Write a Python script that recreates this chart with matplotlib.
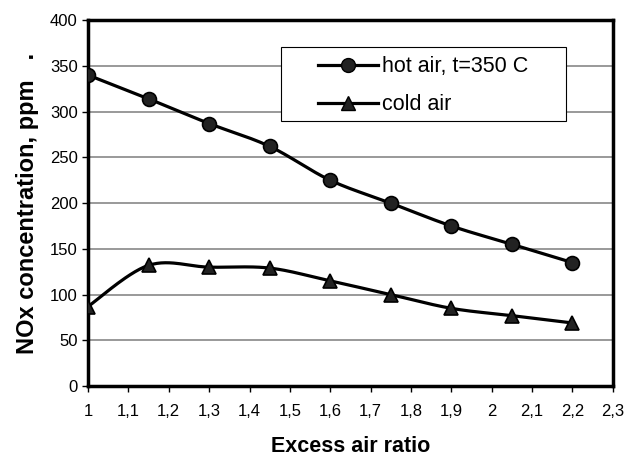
import numpy as np
import matplotlib
matplotlib.use('Agg')
from matplotlib import pyplot as plt
from matplotlib.ticker import FuncFormatter
from matplotlib.patches import Rectangle

# data
excess_air = [1.0, 1.15, 1.3, 1.45, 1.6, 1.75, 1.9, 2.05, 2.2]
hot_air = [340, 314, 287, 262, 225, 200, 175, 155, 135]
cold_air = [87, 132, 130, 129, 115, 100, 85, 77, 69]


def smooth(xs, ys, n=30):
    # Catmull-Rom style smoothing like spreadsheet "smoothed line"
    xs = np.asarray(xs, float)
    ys = np.asarray(ys, float)
    px = np.concatenate([[xs[0]], xs, [xs[-1]]])
    py = np.concatenate([[ys[0]], ys, [ys[-1]]])
    outx, outy = [], []
    t = np.linspace(0, 1, n)
    for i in range(1, len(px) - 2):
        p0 = np.array([px[i], py[i]])
        p3 = np.array([px[i + 1], py[i + 1]])
        c1 = p0 + (np.array([px[i + 1], py[i + 1]]) - np.array([px[i - 1], py[i - 1]])) / 6
        c2 = p3 - (np.array([px[i + 2], py[i + 2]]) - np.array([px[i], py[i]])) / 6
        b = ((1 - t) ** 3)[:, None] * p0 + (3 * (1 - t) ** 2 * t)[:, None] * c1 \
            + (3 * (1 - t) * t ** 2)[:, None] * c2 + (t ** 3)[:, None] * p3
        outx.extend(b[:, 0])
        outy.extend(b[:, 1])
    return outx, outy


plt.rcParams['font.family'] = ['Liberation Sans', 'DejaVu Sans']

fig = plt.figure(figsize=(6.26, 4.58), dpi=100)
ax = fig.add_axes([0.1406, 0.157, 0.8384, 0.799])

for ys, marker, label in [(hot_air, 'o', 'hot air, t=350 C'), (cold_air, '^', 'cold air')]:
    sx, sy = smooth(excess_air, ys)
    ax.plot(sx, sy, color='black', lw=2.3, zorder=3)
    ax.plot(excess_air, ys, linestyle='none', marker=marker, markersize=10,
            markerfacecolor='#222222', markeredgecolor='black', markeredgewidth=1.2, zorder=4)
    ax.plot([], [], color='black', lw=2.3, marker=marker, markersize=10,
            markerfacecolor='#222222', markeredgecolor='black', label=label)

ax.set_xlim(1, 2.3)
ax.set_ylim(0, 400)
ax.set_xticks(np.arange(1, 2.31, 0.1))
ax.set_yticks(np.arange(0, 401, 50))
ax.xaxis.set_major_formatter(FuncFormatter(lambda v, p: ('%g' % round(v, 1)).replace('.', ',')))
ax.yaxis.grid(True, color='#888888', lw=1.2)
ax.set_axisbelow(True)
for s in ax.spines.values():
    s.set_linewidth(2.5)
ax.tick_params(axis='both', labelsize=12, length=4, width=1, direction='out')
ax.tick_params(axis='x', pad=9)

ax.set_xlabel('Excess air ratio', fontsize=15.5, fontweight='bold', labelpad=12)
ax.set_ylabel('NOx concentration, ppm   .', fontsize=17, fontweight='bold', labelpad=8)

# legend box
ax.add_patch(Rectangle((0.3676, 0.724), 0.543, 0.202, transform=ax.transAxes,
                       facecolor='white', edgecolor='black', lw=0.8, zorder=5))
leg = ax.legend(loc='upper left', bbox_to_anchor=(0.438, 0.901), fontsize=15.5,
                frameon=False, borderpad=0, borderaxespad=0, handlelength=2.8,
                handletextpad=0.2, labelspacing=0.78)
leg.set_zorder(6)

plt.savefig('out.png', dpi=100)
plt.close()
